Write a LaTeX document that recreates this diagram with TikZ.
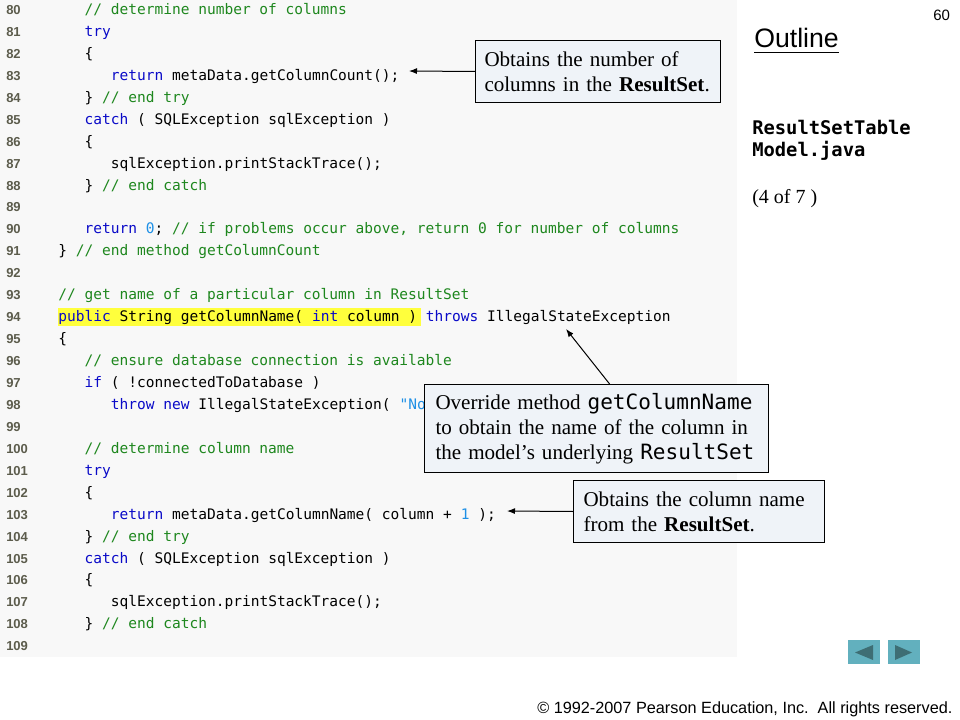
\documentclass[tikz,border=0pt]{standalone}
\usepackage{fontspec}
\usetikzlibrary{arrows.meta,calc}
\newfontfamily\codeff{DejaVu Sans Mono}
\newfontfamily\sansff{Liberation Sans}
\newfontfamily\serifff{Liberation Serif}
\definecolor{codebg}{RGB}{248,248,248}
\definecolor{kwcol}{RGB}{10,10,200}
\definecolor{cmcol}{RGB}{30,135,30}
\definecolor{litcol}{RGB}{30,144,230}
\definecolor{lncol}{RGB}{92,92,76}
\definecolor{hlcol}{RGB}{255,255,60}
\definecolor{boxfill}{RGB}{239,243,248}
\definecolor{btncol}{RGB}{98,176,190}
\definecolor{tricol}{RGB}{62,110,116}
\newcommand\ckw[1]{\textcolor{kwcol}{#1}}
\newcommand\ccm[1]{\textcolor{cmcol}{#1}}
\newcommand\clit[1]{\textcolor{litcol}{#1}}
\newcommand\codefont{\codeff\fontsize{10.9pt}{13pt}\selectfont}
\newcommand\lnfont{\sansff\bfseries\fontsize{9.75pt}{11pt}\selectfont}
\newcommand\boxfont{\serifff\fontsize{15.8pt}{18.75pt}\selectfont}
\newcommand\boxmono{\codeff\fontsize{15.8pt}{18.75pt}\selectfont}
\tikzset{
  codeline/.style={anchor=base west, inner sep=0pt, font=\codefont},
  lnum/.style={anchor=base west, inner sep=0pt, font=\lnfont, text=lncol},
  callout/.style={draw=black, line width=0.75pt, fill=boxfill, anchor=north west,
    align=left, font=\boxfont, inner ysep=0pt},
  arr/.style={-{Latex[length=6pt,width=4.5pt]}, line width=0.75pt},
  navbtn/.style={fill=btncol, draw=none},
  navtri/.style={fill=tricol, draw=none},
}
\begin{document}
\begin{tikzpicture}[x=0.75pt,y=-0.75pt]
\useasboundingbox (0,0) rectangle (960,720);
\fill[white] (0,0) rectangle (960,720);
\fill[codebg] (0,0) rectangle (737,657);
% highlight line 94
\fill[hlcol] (58,308) rectangle (421,326);
% line numbers
\foreach \i in {0,...,29} {
  \pgfmathtruncatemacro\num{80+\i}
  \node[lnum] (ln\num) at (6,{14.5+21.94*\i}) {\num};
}
% code
\node[codeline] (c80) at (84.25,14.5) {\ccm{// determine number of columns}};
\node[codeline] (c81) at (84.25,36.44) {\ckw{try}};
\node[codeline] (c82) at (84.25,58.38) {\{};
\node[codeline] (c83) at (110.5,80.32) {\ckw{return} metaData.getColumnCount();};
\node[codeline] (c84) at (84.25,102.26) {\} \ccm{// end try}};
\node[codeline] (c85) at (84.25,124.2) {\ckw{catch} ( SQLException sqlException )};
\node[codeline] (c86) at (84.25,146.14) {\{};
\node[codeline] (c87) at (110.5,168.08) {sqlException.printStackTrace();};
\node[codeline] (c88) at (84.25,190.02) {\} \ccm{// end catch}};
\node[codeline] (c90) at (84.25,233.9) {\ckw{return} \clit{0}; \ccm{// if problems occur above, return 0 for number of columns}};
\node[codeline] (c91) at (58,255.84) {\} \ccm{// end method getColumnCount}};
\node[codeline] (c93) at (58,299.72) {\ccm{// get name of a particular column in ResultSet}};
\node[codeline] (c94) at (58,321.66) {\ckw{public} String getColumnName( \ckw{int} column ) \ckw{throws} IllegalStateException};
\node[codeline] (c95) at (58,343.6) {\{};
\node[codeline] (c96) at (84.25,365.54) {\ccm{// ensure database connection is available}};
\node[codeline] (c97) at (84.25,387.48) {\ckw{if} ( !connectedToDatabase )};
\node[codeline] (c98) at (110.5,409.42) {\ckw{throw} \ckw{new} IllegalStateException( \clit{"No}};
\node[codeline] (c100) at (84.25,453.3) {\ccm{// determine column name}};
\node[codeline] (c101) at (84.25,475.24) {\ckw{try}};
\node[codeline] (c102) at (84.25,497.18) {\{};
\node[codeline] (c103) at (110.5,519.12) {\ckw{return} metaData.getColumnName( column + \clit{1} );};
\node[codeline] (c104) at (84.25,541.06) {\} \ccm{// end try}};
\node[codeline] (c105) at (84.25,563.0) {\ckw{catch} ( SQLException sqlException )};
\node[codeline] (c106) at (84.25,584.94) {\{};
\node[codeline] (c107) at (110.5,606.88) {sqlException.printStackTrace();};
\node[codeline] (c108) at (84.25,628.82) {\} \ccm{// end catch}};
% callouts
\node[callout, inner xsep=6.75pt, text width=170.25pt, minimum height=46.5pt] (b1) at (475,40)
  {Obtains the number of\\columns in the \textbf{ResultSet}.};
\node[callout, inner xsep=8.25pt, text width=241.5pt, minimum height=66pt] (b2) at (424,384)
  {Override method {\boxmono getColumnName}\\to obtain the name of the column in\\the model’s underlying {\boxmono ResultSet}};
\node[callout, inner xsep=7.5pt, text width=173.25pt, minimum height=46.5pt] (b3) at (573,480)
  {Obtains the column name\\from the \textbf{ResultSet}.};
% arrow targets
\coordinate (t1) at (409,71);
\coordinate (t2) at (566,329);
\coordinate (t3) at (507,511);
\draw[arr] (b1.west) -- (t1);
\draw[arr] ($(b2.north west)!0.538!(b2.north east)$) -- (t2);
\draw[arr] (b3.west) -- (t3);
% right panel
\node[anchor=base west, inner sep=0pt, font=\sansff\fontsize{11.25pt}{13pt}\selectfont] (pnum) at (933,21) {60};
\node[anchor=base west, inner sep=0pt, font=\sansff\fontsize{20pt}{24pt}\selectfont] (outl) at (754,48) {Outline};
\draw[line width=1.1pt] ([yshift=-3pt]outl.south west) -- ([yshift=-3pt]outl.south east);
\node[anchor=base west, inner sep=0pt, font=\codeff\bfseries\fontsize{14.1pt}{17pt}\selectfont] (fn1) at (752,135) {ResultSetTable};
\node[anchor=base west, inner sep=0pt, font=\codeff\bfseries\fontsize{14.1pt}{17pt}\selectfont] (fn2) at (752,157) {Model.java};
\node[anchor=base west, inner sep=0pt, font=\serifff\fontsize{15pt}{18pt}\selectfont] (part) at (752,204) {(4 of 7 )};
% navigation buttons
\node[navbtn, anchor=north west, minimum width=24pt, minimum height=18pt, inner sep=0pt] (prev) at (848,640) {};
\node[navbtn, anchor=north west, minimum width=24pt, minimum height=18pt, inner sep=0pt] (next) at (888,640) {};
\fill[navtri] (855,652.5) -- (873,645) -- (873,660) -- cycle;
\fill[navtri] (912,652.5) -- (895,645) -- (895,660) -- cycle;
% copyright
\node[anchor=base west, inner sep=0pt, font=\sansff\fontsize{12.2pt}{14pt}\selectfont] (copy) at (537,713)
  {© 1992-2007 Pearson Education, Inc.\hspace{0.55em}All rights reserved.};
\end{tikzpicture}
\end{document}
